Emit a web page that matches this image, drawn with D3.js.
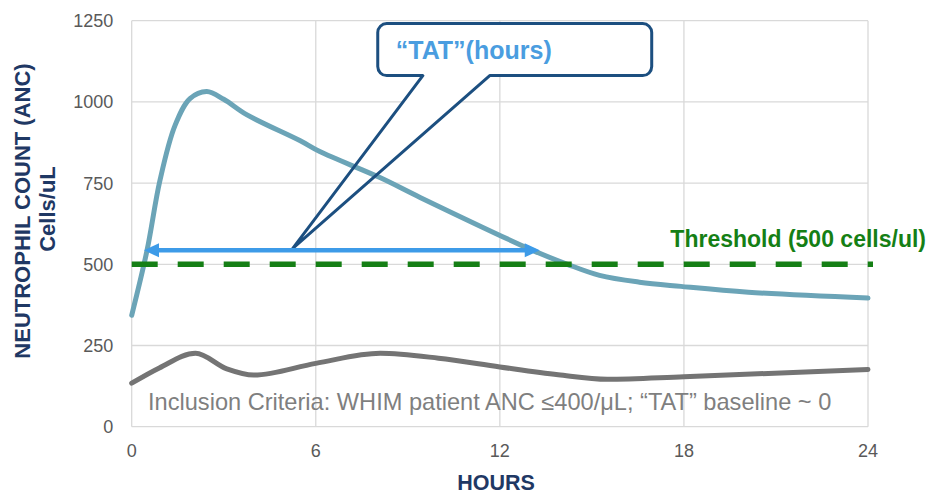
<!DOCTYPE html>
<html>
<head>
<meta charset="utf-8">
<script src="https://cdn.jsdelivr.net/npm/d3@7"></script>
<style>
  html, body { margin: 0; padding: 0; background: #ffffff; }
  svg { display: block; font-family: "Liberation Sans", Arial, sans-serif; }
</style>
</head>
<body>
<svg id="chart" width="930" height="495"></svg>
<script>
// ---- data ----
const xTicks = [0, 6, 12, 18, 24];
const yTicks = [0, 250, 500, 750, 1000, 1250];

const tealHours  = [0, 0.5, 0.92, 1.41, 1.9, 2.45, 3.0, 3.76, 5.48, 6.13, 8.09, 9.4, 13.07, 14.2, 15.25, 16.55, 17.9, 20.1, 24];
const tealValues = [343, 543, 758, 927, 1010, 1032, 1008, 960, 881, 847, 767, 706, 543, 500, 466, 445, 432, 414, 396];

const grayHours  = [0, 0.9, 2.08, 3.1, 3.98, 6, 8.1, 10, 12, 13.9, 15.5, 18, 24];
const grayValues = [134, 181, 226, 178, 159, 195, 226, 211, 184, 160, 146, 154, 176];

const thresholdValue = 500;
const arrowRange = [0.4, 13.3];
const arrowLevel = 543;
const calloutTip = [5.25, 549];
const calloutBox = { t0: 8.02, t1: 16.95, v0: 1081, v1: 1241 };
const calloutAttach = [9.49, 11.67];

const yTitle1 = "NEUTROPHIL COUNT (ANC)";
const yTitle2 = "Cells/uL";
const xTitle = "HOURS";
const thresholdLabel = "Threshold (500 cells/ul)";
const calloutLabel = "\u201CTAT\u201D(hours)";
const noteLabel = "Inclusion Criteria: WHIM patient ANC \u2264400/\u03BCL; \u201CTAT\u201D baseline ~ 0";

// ---- scales ----
const svg = d3.select("#chart");
const x = d3.scaleLinear().domain([0, 24]).range([131.7, 868]);
const y = d3.scaleLinear().domain([0, 1250]).range([426.7, 20.7]);

// gridlines
const grid = svg.append("g");
grid.selectAll("line.h").data(yTicks).join("line")
  .attr("x1", x(0)).attr("x2", x(24))
  .attr("y1", d => y(d)).attr("y2", d => y(d))
  .attr("stroke", "#d9d9d9").attr("stroke-width", 1.3);
grid.selectAll("line.v").data(xTicks).join("line")
  .attr("x1", d => x(d)).attr("x2", d => x(d))
  .attr("y1", y(0)).attr("y2", y(1250))
  .attr("stroke", "#d9d9d9").attr("stroke-width", 1.3);

// tick labels
svg.append("g").selectAll("text").data(yTicks).join("text")
  .attr("x", x(0) - 18.5).attr("y", d => y(d)).attr("dy", "0.36em")
  .attr("text-anchor", "end").attr("font-size", 18).attr("fill", "#595959")
  .text(d => d);
svg.append("g").selectAll("text").data(xTicks).join("text")
  .attr("x", d => x(d)).attr("y", 457)
  .attr("text-anchor", "middle").attr("font-size", 18).attr("fill", "#595959")
  .text(d => d);

// axis titles
svg.append("text").attr("x", 496).attr("y", 490).attr("text-anchor", "middle")
  .attr("font-size", 21.5).attr("font-weight", "bold").attr("fill", "#1f3864").text(xTitle);
svg.append("text").attr("transform", "translate(30,211) rotate(-90)").attr("text-anchor", "middle")
  .attr("font-size", 22).attr("font-weight", "bold").attr("fill", "#1f3864").text(yTitle1);
svg.append("text").attr("transform", "translate(55,209) rotate(-90)").attr("text-anchor", "middle")
  .attr("font-size", 22).attr("font-weight", "bold").attr("fill", "#1f3864").text(yTitle2);

// callout shape
const bx0 = x(calloutBox.t0), bx1 = x(calloutBox.t1), by0 = y(calloutBox.v1), by1 = y(calloutBox.v0);
const ax0 = x(calloutAttach[0]), ax1 = x(calloutAttach[1]);
const tx = x(calloutTip[0]), ty = y(calloutTip[1]);
const r = 9;
const p = d3.path();
p.moveTo(bx0 + r, by0);
p.lineTo(bx1 - r, by0);
p.arcTo(bx1, by0, bx1, by0 + r, r);
p.lineTo(bx1, by1 - r);
p.arcTo(bx1, by1, bx1 - r, by1, r);
p.lineTo(ax1, by1);
p.lineTo(tx, ty);
p.lineTo(ax0, by1);
p.lineTo(bx0 + r, by1);
p.arcTo(bx0, by1, bx0, by1 - r, r);
p.lineTo(bx0, by0 + r);
p.arcTo(bx0, by0, bx0 + r, by0, r);
p.closePath();
svg.append("path").attr("d", p.toString()).attr("fill", "#ffffff").attr("stroke", "none");

// series lines
const tealData = tealHours.map((h, i) => [h, tealValues[i]]);
const grayData = grayHours.map((h, i) => [h, grayValues[i]]);
const smooth = d3.line().x(d => x(d[0])).y(d => y(d[1])).curve(d3.curveCatmullRom.alpha(0.5));
const mono = d3.line().x(d => x(d[0])).y(d => y(d[1])).curve(d3.curveMonotoneX);

svg.append("path").attr("d", mono(grayData)).attr("fill", "none")
  .attr("stroke", "#747474").attr("stroke-width", 5).attr("stroke-linecap", "round");
svg.append("path").attr("d", smooth(tealData)).attr("fill", "none")
  .attr("stroke", "#6ba4b7").attr("stroke-width", 5).attr("stroke-linecap", "round");

// callout outline on top
svg.append("path").attr("d", p.toString()).attr("fill", "none")
  .attr("stroke", "#1c4f80").attr("stroke-width", 3).attr("stroke-linejoin", "round");
svg.append("text").attr("x", bx0 + 18).attr("y", by0 + 35)
  .attr("font-size", 25).attr("font-weight", "bold").attr("fill", "#4a9de0").text(calloutLabel);

// threshold
svg.append("line").attr("x1", x(0)).attr("x2", x(24) + 5)
  .attr("y1", y(thresholdValue)).attr("y2", y(thresholdValue))
  .attr("stroke", "#157f15").attr("stroke-width", 5.5).attr("stroke-dasharray", "26,20");
svg.append("text").attr("x", 926).attr("y", 247).attr("text-anchor", "end")
  .attr("font-size", 23).attr("font-weight", "bold").attr("fill", "#157f15").text(thresholdLabel);

// double arrow
const ay = y(arrowLevel), axL = x(arrowRange[0]), axR = x(arrowRange[1]);
const ah = 15, aw = 7;
svg.append("line").attr("x1", axL + ah - 2).attr("x2", axR - ah + 2).attr("y1", ay).attr("y2", ay)
  .attr("stroke", "#3d9be8").attr("stroke-width", 4.5);
svg.append("path").attr("d", `M${axL},${ay} L${axL + ah},${ay - aw} L${axL + ah},${ay + aw} Z`).attr("fill", "#3d9be8");
svg.append("path").attr("d", `M${axR},${ay} L${axR - ah},${ay - aw} L${axR - ah},${ay + aw} Z`).attr("fill", "#3d9be8");

// note
svg.append("text").attr("x", 148).attr("y", 410)
  .attr("font-size", 23.6).attr("fill", "#7f7f7f").text(noteLabel);
</script>
</body>
</html>
